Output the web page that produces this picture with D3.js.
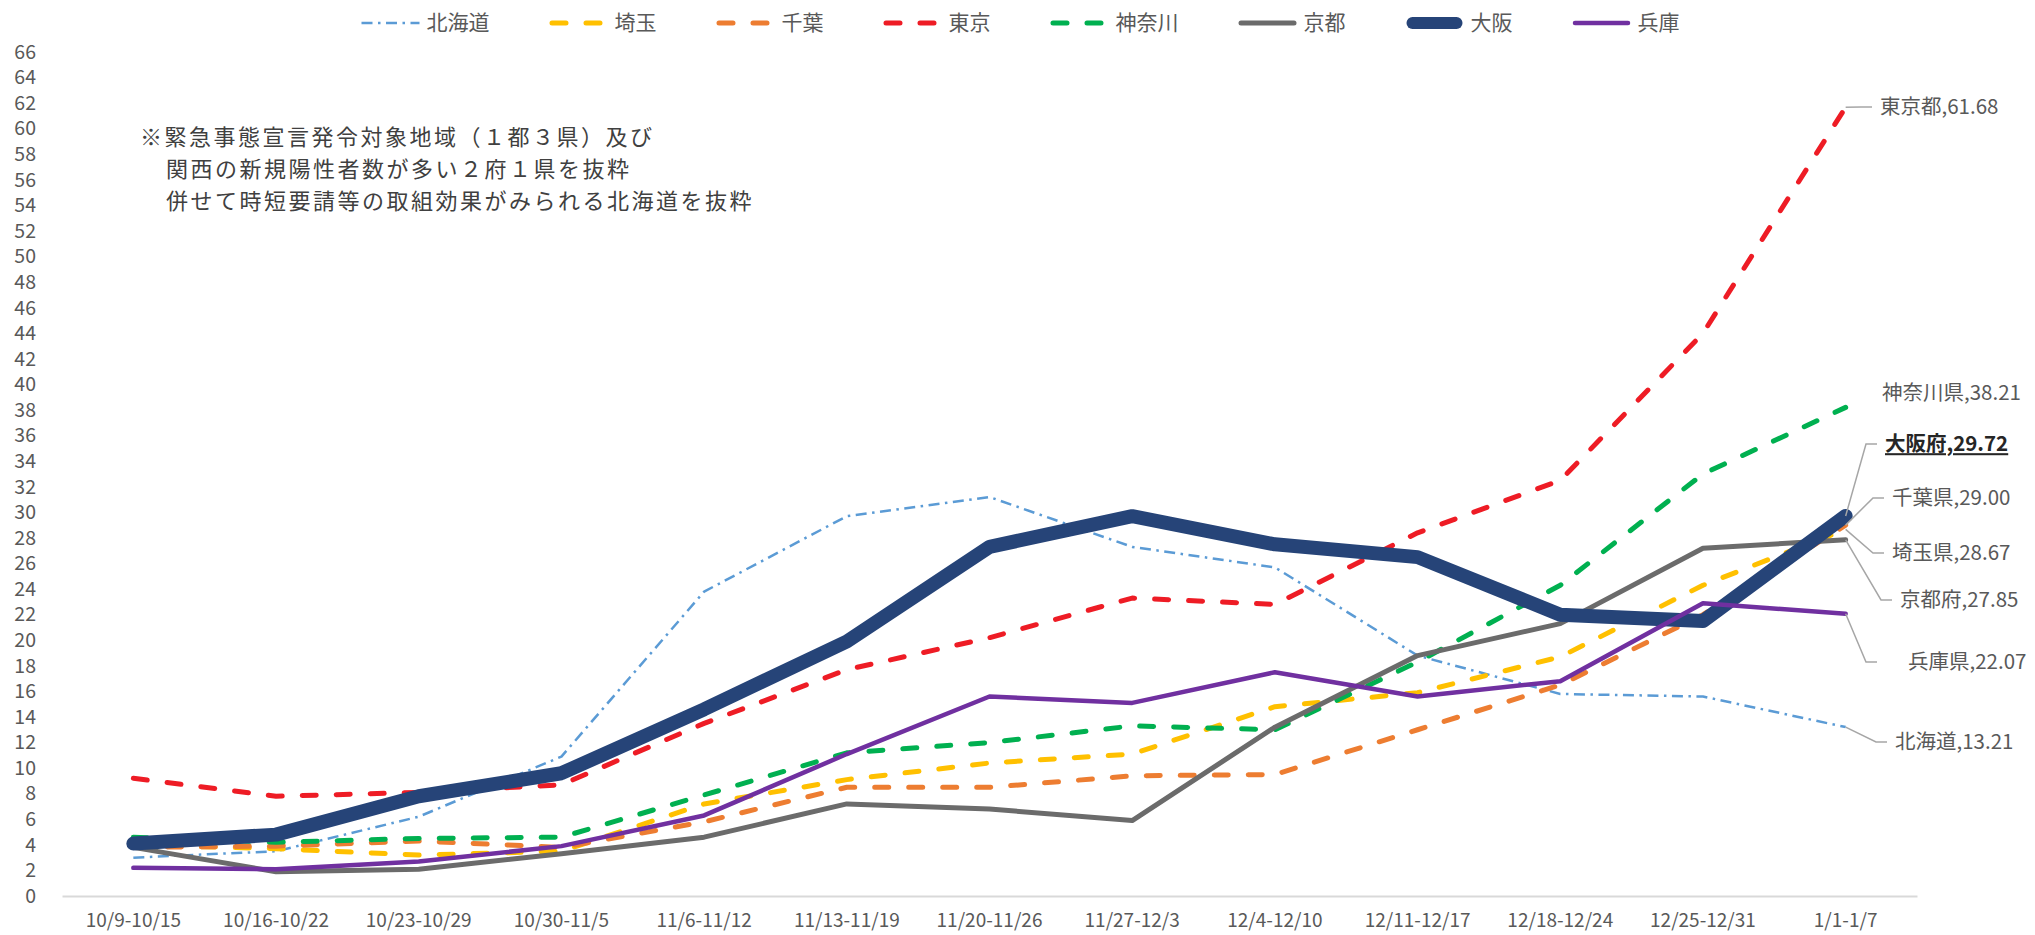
<!DOCTYPE html>
<html><head><meta charset="utf-8">
<script src="https://cdn.jsdelivr.net/npm/d3@7"></script>
<style>
html,body{margin:0;padding:0;background:#fff;}
svg{display:block;font-family:"Noto Sans CJK JP","Noto Sans",sans-serif;}
</style></head>
<body>
<svg id="c" width="2035" height="935"></svg>
<script>
// ---- data ----
const categories = ["10/9-10/15","10/16-10/22","10/23-10/29","10/30-11/5","11/6-11/12","11/13-11/19","11/20-11/26","11/27-12/3","12/4-12/10","12/11-12/17","12/18-12/24","12/25-12/31","1/1-1/7"];
const hokkaido = [3.0, 3.5, 6.2, 10.9, 23.8, 29.7, 31.2, 27.3, 25.7, 18.8, 15.8, 15.6, 13.21];
const saitama  = [4.0, 3.7, 3.2, 3.5, 7.2, 9.1, 10.4, 11.1, 14.8, 15.9, 18.7, 24.3, 28.67];
const chiba    = [3.8, 3.9, 4.3, 3.8, 5.8, 8.5, 8.5, 9.4, 9.5, 13.0, 16.5, 22.0, 29.00];
const tokyo    = [9.2, 7.8, 8.1, 8.7, 13.5, 17.7, 20.2, 23.3, 22.8, 28.4, 32.5, 44.0, 61.68];
const kanagawa = [4.6, 4.2, 4.5, 4.6, 7.9, 11.2, 12.0, 13.3, 13.0, 18.3, 24.3, 33.0, 38.21];
const kyoto    = [3.8, 1.9, 2.1, 3.3, 4.6, 7.2, 6.8, 5.9, 13.2, 18.8, 21.3, 27.2, 27.85];
const osaka    = [4.1, 4.8, 7.8, 9.6, 14.6, 19.9, 27.3, 29.7, 27.5, 26.5, 22.0, 21.5, 29.72];
const hyogo    = [2.2, 2.1, 2.7, 3.9, 6.3, 11.1, 15.6, 15.1, 17.5, 15.6, 16.8, 22.9, 22.07];
const seriesNames = ["北海道","埼玉","千葉","東京","神奈川","京都","大阪","兵庫"];
const labelNames  = ["北海道","埼玉県","千葉県","東京都","神奈川県","京都府","大阪府","兵庫県"];
const yTicks = d3.range(0, 67, 2);
const noteLines = ["※緊急事態宣言発令対象地域（１都３県）及び","関西の新規陽性者数が多い２府１県を抜粋","併せて時短要請等の取組効果がみられる北海道を抜粋"];

// ---- styles ----
const seriesValues = [hokkaido, saitama, chiba, tokyo, kanagawa, kyoto, osaka, hyogo];
const styles = [
  {color:"#5B9BD5", w:2.5, dash:"11,5.5,2.5,5.5", cap:"butt"},
  {color:"#FFC000", w:5, dash:"14,20", cap:"round"},
  {color:"#ED7D31", w:5, dash:"14,20", cap:"round"},
  {color:"#EE1C25", w:5, dash:"14,20", cap:"round"},
  {color:"#00B050", w:5, dash:"14,20", cap:"round"},
  {color:"#6B6B6B", w:5, dash:null, cap:"round"},
  {color:"#264478", w:14, dash:null, cap:"round"},
  {color:"#7030A0", w:4.5, dash:null, cap:"round"}
];
// data-label placement (layout only)
const labelLayout = [
  {x:1895, y:742},
  {x:1892, y:553},
  {x:1892, y:498},
  {x:1880, y:107},
  {x:1882, y:393, noLeader:true},
  {x:1900, y:600},
  {x:1885, y:444, bold:true},
  {x:1908, y:662, gap:23}
];

const svg = d3.select("#c");
const x = d3.scaleBand().domain(categories).range([62, 1917]);
const y = d3.scaleLinear().domain([0, 66]).range([896, 52]);
const cx = c => x(c) + x.bandwidth()/2;

// x axis
const gx = svg.append("g").attr("transform","translate(0,896)")
  .call(d3.axisBottom(x).tickSize(0).tickSizeOuter(0).tickPadding(18));
gx.select(".domain").attr("stroke","#D9D9D9").attr("stroke-width",2);
gx.selectAll("text").attr("fill","#595959").attr("font-size",19).attr("font-family","'Noto Sans CJK JP',sans-serif");

// y axis
const gy = svg.append("g").attr("transform","translate(38,0)")
  .call(d3.axisLeft(y).tickValues(yTicks).tickSize(0).tickPadding(2));
gy.select(".domain").remove();
gy.selectAll("text").attr("fill","#595959").attr("font-size",19.5).attr("font-family","'Noto Sans CJK JP',sans-serif");

// note (three separate lines)
noteLines.forEach((t,i)=>{
  svg.append("text").attr("x", i===0?140:166).attr("y", 137 + i*32).attr("dy","0.35em")
    .attr("fill","#404040").attr("font-size",22).attr("letter-spacing",2.5).text(t);
});

// lines
const line = d3.line().x((d,i)=>cx(categories[i])).y(d=>y(d));
seriesValues.forEach((vals,i)=>{
  const s = styles[i];
  svg.append("path").datum(vals).attr("d", line)
    .attr("fill","none").attr("stroke", s.color).attr("stroke-width", s.w)
    .attr("stroke-linecap", s.cap).attr("stroke-linejoin","round")
    .attr("stroke-dasharray", s.dash);
});

// data labels with leader lines
const lastX = cx(categories[categories.length-1]);
seriesValues.forEach((vals,i)=>{
  const L = labelLayout[i];
  const v = vals[vals.length-1];
  const gap = L.gap || 0;
  if(!L.noLeader){
    svg.append("polyline")
      .attr("points", [[lastX, y(v)], [L.x-19-gap, L.y], [L.x-8-gap, L.y]].map(p=>p.join(",")).join(" "))
      .attr("fill","none").attr("stroke","#A6A6A6").attr("stroke-width",1.5);
  }
  svg.append("text").attr("x", L.x).attr("y", L.y).attr("dy","0.35em")
    .attr("font-size", 20.5)
    .attr("font-weight", L.bold ? 700 : 400)
    .attr("fill", L.bold ? "#262626" : "#595959")
    .style("text-decoration", L.bold ? "underline" : null)
    .text(labelNames[i] + "," + v.toFixed(2));
});

// legend
const lg = svg.append("g");
let pos = 0;
seriesNames.forEach((n,i)=>{
  const g = lg.append("g");
  const s = styles[i];
  const t = g.append("text").attr("x", 65).attr("y", 23).attr("dy","0.35em")
    .attr("font-size", 21).attr("fill","#595959").text(n);
  const tw = t.node().getComputedTextLength();
  let x0 = 2.5, x1 = 55.5;
  if (s.cap === "butt") { x0 = 0; x1 = 58; }
  if (s.w > 10) { x0 = 7; x1 = 51; }
  g.append("line").attr("x1", x0).attr("x2", x1).attr("y1", 23).attr("y2", 23)
    .attr("stroke", s.color).attr("stroke-width", Math.min(s.w, 12))
    .attr("stroke-linecap", s.cap).attr("stroke-dasharray", s.dash);
  g.attr("transform", `translate(${pos},0)`);
  pos += 65 + tw + 60;
});
const total = pos - 60;
lg.attr("transform", `translate(${(2035 - total)/2 + 3},0)`);
</script>
</body></html>
